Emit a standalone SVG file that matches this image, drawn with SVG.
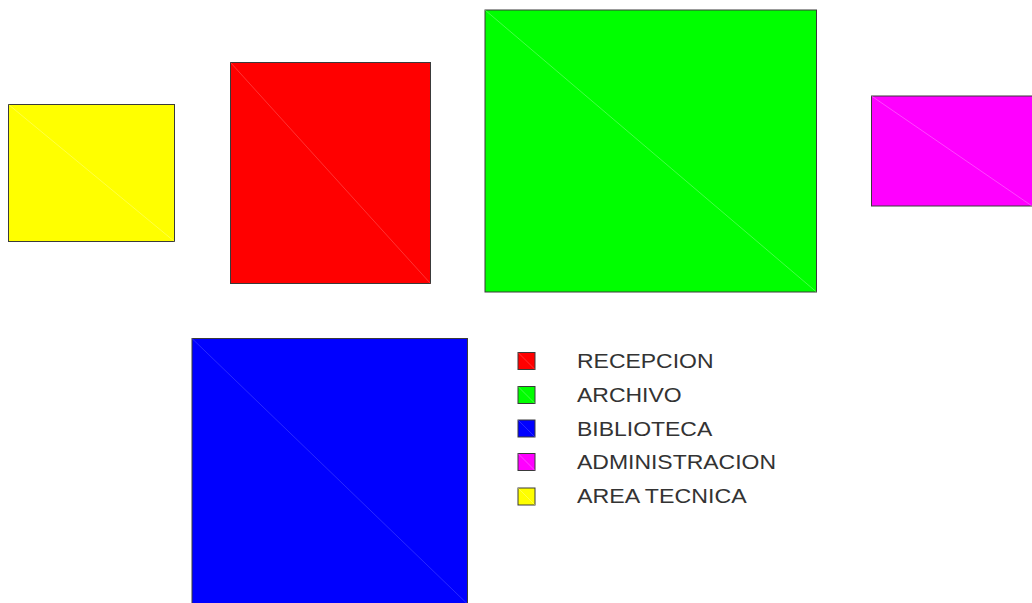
<svg xmlns="http://www.w3.org/2000/svg" width="1032" height="603" viewBox="0 0 1032 603">
<style>
.box{stroke:#3a3a3a;stroke-width:1}
.diag{stroke-width:0.8;stroke-opacity:0.5}
.lbl{font-family:"Liberation Sans",Arial,sans-serif;font-size:21px;fill:#333}
</style>
<rect width="1032" height="603" fill="#fff"/>
<g id="area-tecnica">
<rect class="box" x="8.5" y="104.5" width="166" height="137" fill="#ffff00"/>
<line class="diag" x1="8.5" y1="104.5" x2="174.5" y2="241.5" stroke="#ffffaa"/>
</g>
<g id="recepcion">
<rect class="box" x="230.5" y="62.5" width="200" height="221" fill="#ff0000"/>
<line class="diag" x1="230.5" y1="62.5" x2="430.5" y2="283.5" stroke="#ff8080"/>
</g>
<g id="archivo">
<rect class="box" x="485" y="10" width="331.5" height="282" fill="#00ff00"/>
<line class="diag" x1="485" y1="10" x2="816.5" y2="292" stroke="#aaffaa"/>
</g>
<g id="administracion">
<rect class="box" x="871.5" y="96" width="161" height="110" fill="#ff00ff"/>
<line class="diag" x1="871.5" y1="96" x2="1032" y2="206" stroke="#ffaaff"/>
</g>
<g id="biblioteca">
<rect class="box" x="192" y="338.5" width="275.5" height="266" fill="#0000ff"/>
<line class="diag" x1="192" y1="338.5" x2="467.5" y2="604" stroke="#6666ff"/>
</g>
<g id="legend">
<rect class="box" x="518" y="352.5" width="17" height="17" fill="#ff0000"/>
<line class="diag" x1="518" y1="352.5" x2="535" y2="369.5" stroke="#ff8080"/>
<text class="lbl" x="577" y="368.3" textLength="136.5" lengthAdjust="spacingAndGlyphs">RECEPCION</text>
<rect class="box" x="518" y="386.5" width="17" height="17" fill="#00ff00"/>
<line class="diag" x1="518" y1="386.5" x2="535" y2="403.5" stroke="#aaffaa"/>
<text class="lbl" x="577" y="401.9" textLength="104.6" lengthAdjust="spacingAndGlyphs">ARCHIVO</text>
<rect class="box" x="518" y="420" width="17" height="17" fill="#0000ff"/>
<line class="diag" x1="518" y1="420" x2="535" y2="437" stroke="#6666ff"/>
<text class="lbl" x="577" y="435.5" textLength="135.2" lengthAdjust="spacingAndGlyphs">BIBLIOTECA</text>
<rect class="box" x="518" y="453.5" width="17" height="17" fill="#ff00ff"/>
<line class="diag" x1="518" y1="453.5" x2="535" y2="470.5" stroke="#ffaaff"/>
<text class="lbl" x="577" y="469" textLength="199" lengthAdjust="spacingAndGlyphs">ADMINISTRACION</text>
<rect class="box" x="518" y="488" width="17" height="17" fill="#ffff00"/>
<line class="diag" x1="518" y1="488" x2="535" y2="505" stroke="#ffffaa"/>
<text class="lbl" x="577" y="502.6" textLength="169.6" lengthAdjust="spacingAndGlyphs">AREA TECNICA</text>
</g>
<g id="connectors"/>
</svg>
